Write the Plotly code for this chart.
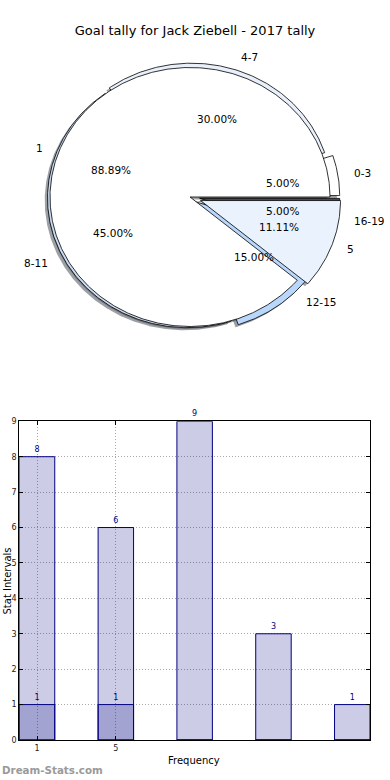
import math
import plotly.graph_objects as go

# ---------------- data ----------------
title_text = "Goal tally for Jack Ziebell - 2017 tally"

outer_labels = ["0-3", "4-7", "8-11", "12-15", "16-19"]
outer_counts = [1, 6, 9, 3, 1]
outer_colors = ["#ffffff", "#e8f0fb", "#c9dcf4", "#b9d6fb", "#4a4a4a"]
outer_explode = [0.07, 0.035, 0.02, 0.05, 0.07]

inner_labels = ["1", "5"]
inner_counts = [8, 1]
inner_colors = ["#ffffff", "#eaf2fd"]
inner_explode = [0.0, 0.08]

bar_positions = [0, 1, 2, 3, 4]
bar_values_a = [8, 6, 9, 3, 1]
bar_values_b = [1, 1, 0, 0, 0]
bar_tick_positions = [0, 1]
bar_tick_labels = ["1", "5"]

# ---------------- geometry / style ----------------
W, H = 390, 780
FONT = "DejaVu Sans"
RX, RY = 140.0, 129.5          # pie radii in pixel units
SHADOW = (-0.02, -0.02)

fig = go.Figure()


def wedges(counts, explode):
    total = float(sum(counts))
    out = []
    a0 = 0.0
    for c, e in zip(counts, explode):
        a1 = a0 + 360.0 * c / total
        mid = math.radians((a0 + a1) / 2)
        dx, dy = e * RX * math.cos(mid), e * RY * math.sin(mid)
        out.append((a0, a1, mid, dx, dy, 100.0 * c / total))
        a0 = a1
    return out


def poly(a0, a1, dx, dy):
    n = max(2, int(abs(a1 - a0)) * 2)
    xs, ys = [dx], [dy]
    for i in range(n + 1):
        t = math.radians(a0 + (a1 - a0) * i / n)
        xs.append(dx + RX * math.cos(t))
        ys.append(dy + RY * math.sin(t))
    xs.append(dx)
    ys.append(dy)
    return xs, ys


def shade(hexcol):
    h = hexcol.lstrip("#")
    r, g, b = (int(h[i:i + 2], 16) for i in (0, 2, 4))
    return "rgba(%d,%d,%d,0.5)" % (int(r * 0.3), int(g * 0.3), int(b * 0.3))


ow = wedges(outer_counts, outer_explode)
iw = wedges(inner_counts, inner_explode)

# shadows (beneath everything)
for ws, cols in ((ow, outer_colors), (iw, inner_colors)):
    for (a0, a1, mid, dx, dy, p), col in zip(ws, cols):
        xs, ys = poly(a0, a1, dx + SHADOW[0] * RX, dy + SHADOW[1] * RY)
        fig.add_trace(go.Scatter(x=xs, y=ys, fill="toself", fillcolor=shade(col),
                                 mode="lines", line=dict(width=0), hoverinfo="skip",
                                 showlegend=False, xaxis="x", yaxis="y"))

# wedges
for ws, cols in ((ow, outer_colors), (iw, inner_colors)):
    for (a0, a1, mid, dx, dy, p), col in zip(ws, cols):
        xs, ys = poly(a0, a1, dx, dy)
        fig.add_trace(go.Scatter(x=xs, y=ys, fill="toself", fillcolor=col,
                                 mode="lines", line=dict(color="black", width=0.8),
                                 hoverinfo="skip", showlegend=False,
                                 xaxis="x", yaxis="y"))

annotations = []
for ws, labels in ((ow, outer_labels), (iw, inner_labels)):
    for (a0, a1, mid, dx, dy, p), lab in zip(ws, labels):
        lx = dx + 1.1 * RX * math.cos(mid)
        ly = dy + 1.1 * RY * math.sin(mid)
        annotations.append(dict(x=lx, y=ly, xref="x", yref="y", text=lab,
                                showarrow=False, xanchor="left" if lx > 0 else "right",
                                yanchor="middle",
                                font=dict(family=FONT, size=10.5, color="black")))
        px = dx + 0.6 * RX * math.cos(mid)
        py = dy + 0.6 * RY * math.sin(mid)
        annotations.append(dict(x=px, y=py, xref="x", yref="y", text="%.2f%%" % p,
                                showarrow=False, xanchor="center", yanchor="middle",
                                font=dict(family=FONT, size=10.5, color="black")))

# ---------------- bars ----------------
navy_fill = "rgba(0,0,128,0.2)"
fig.add_trace(go.Bar(x=bar_positions, y=bar_values_a, width=0.45,
                     marker=dict(color=navy_fill, line=dict(color="#000080", width=1)),
                     text=[str(v) if v else "" for v in bar_values_a],
                     textposition="outside", cliponaxis=False,
                     textfont=dict(family=FONT, size=8, color="#000080"),
                     hoverinfo="skip", showlegend=False, xaxis="x2", yaxis="y2"))
fig.add_trace(go.Bar(x=bar_positions, y=bar_values_b, width=0.45,
                     marker=dict(color=navy_fill, line=dict(color="#000080", width=1)),
                     text=[str(v) if v else "" for v in bar_values_b],
                     textposition="outside", cliponaxis=False,
                     textfont=dict(family=FONT, size=8, color="#000080"),
                     hoverinfo="skip", showlegend=False, xaxis="x2", yaxis="y2"))

annotations.append(dict(x=194 / W, y=1 - 760 / H, xref="paper", yref="paper",
                        text="Frequency", showarrow=False, xanchor="center", yanchor="middle",
                        font=dict(family=FONT, size=10, color="black")))
annotations.append(dict(x=6.5 / W, y=1 - 581 / H, xref="paper", yref="paper",
                        text="Stat Intervals", showarrow=False, textangle=-90,
                        xanchor="center", yanchor="middle",
                        font=dict(family=FONT, size=10, color="black")))
annotations.append(dict(x=0, y=1 - 770 / H, xref="paper", yref="paper",
                        text="<b>Dream-Stats.com</b>", showarrow=False, xanchor="left",
                        yanchor="middle",
                        font=dict(family=FONT, size=10.3, color="#9a9a9a")))

pie_top, pie_bot = 40, 340
cy = 197
grid_kw = dict(showgrid=True, gridcolor="#a8a8a8", griddash="1px,2px", gridwidth=1,
               showline=True, linecolor="black", linewidth=1, mirror="ticks",
               ticks="inside", ticklen=4, tickcolor="black", zeroline=False,
               tickfont=dict(family=FONT, size=8, color="#222"))
fig.update_layout(
    width=W, height=H,
    margin=dict(l=0, r=0, t=0, b=0, autoexpand=False),
    paper_bgcolor="white", plot_bgcolor="white",
    barmode="overlay",
    title=dict(text=title_text, x=0.5, xanchor="center", y=1 - 30 / H, yanchor="middle",
               font=dict(family=FONT, size=13, color="black")),
    xaxis=dict(domain=[0, 1], range=[-190, W - 190], visible=False, fixedrange=True),
    yaxis=dict(domain=[1 - pie_bot / H, 1 - pie_top / H],
               range=[-(pie_bot - cy), cy - pie_top], visible=False, fixedrange=True),
    xaxis2=dict(domain=[19.3 / W, 370 / W], range=[-0.225, 4.225], anchor="y2",
                tickvals=bar_tick_positions, ticktext=bar_tick_labels, **grid_kw),
    yaxis2=dict(domain=[1 - 740 / H, 1 - 421.3 / H], range=[0, 9], anchor="x2",
                dtick=1, tick0=0, **grid_kw),
    annotations=annotations,
)

fig.write_html("out.html", config={"displayModeBar": False},
               post_script="document.body.style.margin='0';document.body.style.overflow='hidden';")
